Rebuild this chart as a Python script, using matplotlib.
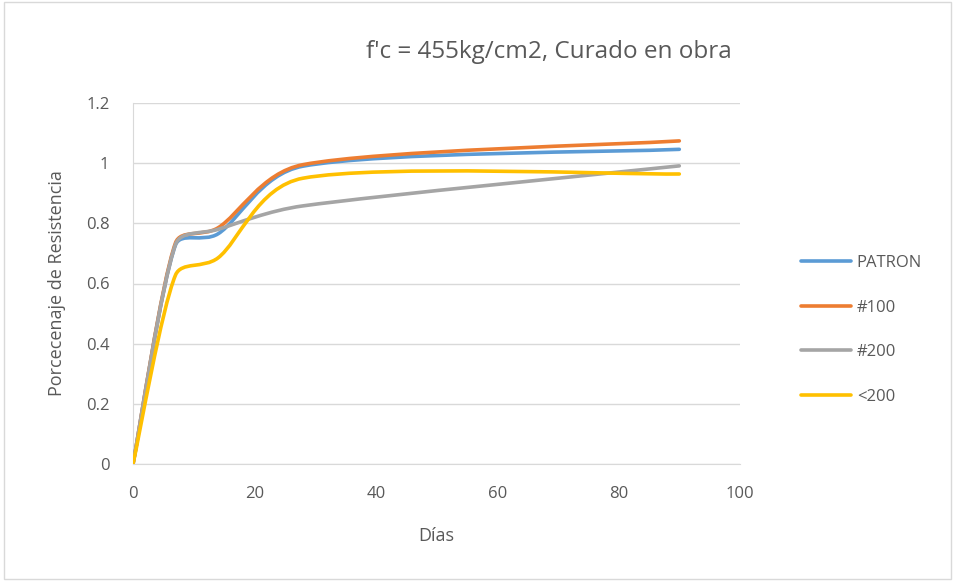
import math
import matplotlib.pyplot as plt
from matplotlib.path import Path
from matplotlib.patches import PathPatch, Rectangle
from matplotlib.lines import Line2D

# Datos (días de ensayo / porcentaje de resistencia)
dias = [0, 7, 14, 28, 90]
patron = [0, 0.728, 0.765, 0.99, 1.046]
malla100 = [0, 0.735, 0.785, 0.995, 1.074]
malla200 = [0, 0.73, 0.78, 0.858, 0.991]
menor200 = [0, 0.628, 0.685, 0.95, 0.964]

series = [
    ("PATRON", patron, "#5B9BD5"),
    ("#100", malla100, "#ED7D31"),
    ("#200", malla200, "#A5A5A5"),
    ("<200", menor200, "#FFC000"),
]


def smooth_path(ax, xs, ys):
    # curva suavizada estilo Excel: Bezier cúbica en pixeles, tensión 1/6
    # con el largo de los puntos de control limitado por el segmento
    to_px = ax.transData
    pts = [tuple(p) for p in to_px.transform(list(zip(xs, ys)))]
    n = len(pts)
    verts = [pts[0]]
    codes = [Path.MOVETO]
    for i in range(n - 1):
        p0 = pts[i - 1] if i > 0 else pts[i]
        p1 = pts[i]
        p2 = pts[i + 1]
        p3 = pts[i + 2] if i + 2 < n else pts[i + 1]
        d02 = math.dist(p0, p2)
        d12 = math.dist(p1, p2)
        d13 = math.dist(p1, p3)
        f = min(1 / 6, d12 / (3 * d02))
        g = min(1 / 6, d12 / (2.5 * d13))
        c1 = (p1[0] + f * (p2[0] - p0[0]), p1[1] + f * (p2[1] - p0[1]))
        c2 = (p2[0] - g * (p3[0] - p1[0]), p2[1] - g * (p3[1] - p1[1]))
        verts += [c1, c2, p2]
        codes += [Path.CURVE4] * 3
    verts = to_px.inverted().transform(verts)
    return Path(verts, codes)


fig = plt.figure(figsize=(9.55, 5.81), dpi=100)
ax = fig.add_axes([133 / 955, 1 - 464 / 581, 607 / 955, 361 / 581])
ax.set_xlim(0, 100)
ax.set_ylim(0, 1.2)

txt = "#595959"
handles = []
for nombre, vals, color in series:
    patch = PathPatch(smooth_path(ax, dias, vals), fill=False, edgecolor=color,
                      lw=2.6, capstyle="round", joinstyle="round", zorder=3)
    ax.add_patch(patch)
    handles.append(Line2D([], [], color=color, lw=2.6, solid_capstyle="round"))

ax.set_xticks([0, 20, 40, 60, 80, 100])
ax.set_yticks([0, 0.2, 0.4, 0.6, 0.8, 1, 1.2])
ax.set_yticklabels(["0", "0.2", "0.4", "0.6", "0.8", "1", "1.2"])
ax.grid(axis="y", color="#D9D9D9", lw=1)
ax.set_axisbelow(True)
for s in ["top", "right"]:
    ax.spines[s].set_visible(False)
for s in ["left", "bottom"]:
    ax.spines[s].set_color("#D9D9D9")
ax.tick_params(length=0, labelsize=12, colors=txt)
ax.tick_params(axis="x", pad=16)
ax.tick_params(axis="y", pad=17)
for lab in ax.get_xticklabels() + ax.get_yticklabels():
    lab.set_family("Open Sans")

ax.set_xlabel("Días", fontsize=13, color=txt, family="Open Sans", labelpad=18)
ax.set_ylabel("Porcecenaje de Resistencia", fontsize=13, color=txt,
              family="Open Sans", labelpad=14)

fig.text(549 / 955, 1 - 52 / 581, "f'c = 455kg/cm2, Curado en obra",
         ha="center", va="center", fontsize=17.5, color=txt, family="Open Sans")

leg = fig.legend(handles, [s[0] for s in series], loc="upper left",
                 bbox_to_anchor=(786 / 955, 1 - 240 / 581), frameon=False,
                 handlelength=3.0, labelspacing=1.72, handletextpad=0.35,
                 prop={"family": "Open Sans", "size": 12})
for t in leg.get_texts():
    t.set_color(txt)

fig.patches.append(Rectangle((0.004, 0.004), 0.992, 0.992, transform=fig.transFigure,
                             fill=False, edgecolor="#D9D9D9", lw=1))

plt.savefig("out.png", dpi=100)
